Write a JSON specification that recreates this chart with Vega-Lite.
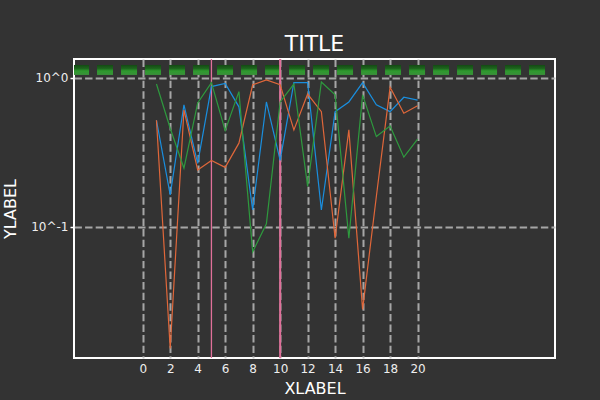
{
  "$schema": "https://vega.github.io/schema/vega-lite/v6.json",
  "width": 481,
  "height": 299,
  "autosize": "none",
  "padding": {"left": 74, "top": 59, "right": 45, "bottom": 42},
  "background": "#333333",
  "title": {"text": "TITLE", "color": "white", "fontSize": 22, "font": "DejaVu Sans", "fontWeight": "normal", "anchor": "middle", "baseline": "alphabetic", "offset": -15},
  "config": {
    "view": {"stroke": "white", "strokeWidth": 2},
    "axis": {
      "domain": false,
      "grid": true,
      "gridColor": "#bbbbbb",
      "gridOpacity": 0.85,
      "gridWidth": 2,
      "gridDash": [7.4, 3.2],
      "zindex": 1,
      "labelColor": "#eeeeee",
      "labelFont": "DejaVu Sans",
      "labelFontSize": 12,
      "titleColor": "white",
      "titleFont": "DejaVu Sans",
      "titleFontSize": 16,
      "titleFontWeight": "normal"
    }
  },
  "datasets": {
    "lines": [
      {"x": 1, "v": 0.52, "s": "a"}, {"x": 2, "v": 0.164, "s": "a"}, {"x": 3, "v": 0.66, "s": "a"}, {"x": 4, "v": 0.267, "s": "a"}, {"x": 5, "v": 0.875, "s": "a"},
      {"x": 6, "v": 0.92, "s": "a"}, {"x": 7, "v": 0.64, "s": "a"}, {"x": 8, "v": 0.13, "s": "a"}, {"x": 9, "v": 0.69, "s": "a"}, {"x": 10, "v": 0.28, "s": "a"},
      {"x": 11, "v": 0.93, "s": "a"}, {"x": 12, "v": 0.93, "s": "a"}, {"x": 13, "v": 0.13, "s": "a"}, {"x": 14, "v": 0.594, "s": "a"}, {"x": 15, "v": 0.69, "s": "a"},
      {"x": 16, "v": 0.93, "s": "a"}, {"x": 17, "v": 0.66, "s": "a"}, {"x": 18, "v": 0.594, "s": "a"}, {"x": 19, "v": 0.742, "s": "a"}, {"x": 20, "v": 0.71, "s": "a"},
      {"x": 1, "v": 0.52, "s": "b"}, {"x": 2, "v": 0.0153, "s": "b"}, {"x": 3, "v": 0.61, "s": "b"}, {"x": 4, "v": 0.241, "s": "b"}, {"x": 5, "v": 0.279, "s": "b"},
      {"x": 6, "v": 0.251, "s": "b"}, {"x": 7, "v": 0.365, "s": "b"}, {"x": 8, "v": 0.9, "s": "b"}, {"x": 9, "v": 0.97, "s": "b"}, {"x": 10, "v": 0.9, "s": "b"},
      {"x": 11, "v": 0.448, "s": "b"}, {"x": 12, "v": 0.78, "s": "b"}, {"x": 13, "v": 0.594, "s": "b"}, {"x": 14, "v": 0.084, "s": "b"}, {"x": 15, "v": 0.448, "s": "b"},
      {"x": 16, "v": 0.028, "s": "b"}, {"x": 17, "v": 0.16, "s": "b"}, {"x": 18, "v": 0.865, "s": "b"}, {"x": 19, "v": 0.58, "s": "b"}, {"x": 20, "v": 0.65, "s": "b"},
      {"x": 1, "v": 0.91, "s": "c"}, {"x": 2, "v": 0.46, "s": "c"}, {"x": 3, "v": 0.248, "s": "c"}, {"x": 4, "v": 0.68, "s": "c"}, {"x": 5, "v": 0.93, "s": "c"},
      {"x": 6, "v": 0.443, "s": "c"}, {"x": 7, "v": 0.81, "s": "c"}, {"x": 8, "v": 0.068, "s": "c"}, {"x": 9, "v": 0.105, "s": "c"}, {"x": 10, "v": 0.69, "s": "c"},
      {"x": 11, "v": 0.91, "s": "c"}, {"x": 12, "v": 0.187, "s": "c"}, {"x": 13, "v": 0.94, "s": "c"}, {"x": 14, "v": 0.77, "s": "c"}, {"x": 15, "v": 0.084, "s": "c"},
      {"x": 16, "v": 0.77, "s": "c"}, {"x": 17, "v": 0.404, "s": "c"}, {"x": 18, "v": 0.476, "s": "c"}, {"x": 19, "v": 0.294, "s": "c"}, {"x": 20, "v": 0.388, "s": "c"}
    ],
    "boxes": [
      {"x0": -5.0, "x1": -3.906, "y0": 1.047, "y1": 1.222},
      {"x0": -3.324, "x1": -2.16, "y0": 1.047, "y1": 1.222},
      {"x0": -1.577, "x1": -0.413, "y0": 1.047, "y1": 1.222},
      {"x0": 0.169, "x1": 1.333, "y0": 1.047, "y1": 1.222},
      {"x0": 1.916, "x1": 3.08, "y0": 1.047, "y1": 1.222},
      {"x0": 3.662, "x1": 4.826, "y0": 1.047, "y1": 1.222},
      {"x0": 5.408, "x1": 6.572, "y0": 1.047, "y1": 1.222},
      {"x0": 7.155, "x1": 8.319, "y0": 1.047, "y1": 1.222},
      {"x0": 8.901, "x1": 10.065, "y0": 1.047, "y1": 1.222},
      {"x0": 10.648, "x1": 11.812, "y0": 1.047, "y1": 1.222},
      {"x0": 12.394, "x1": 13.558, "y0": 1.047, "y1": 1.222},
      {"x0": 14.14, "x1": 15.304, "y0": 1.047, "y1": 1.222},
      {"x0": 15.887, "x1": 17.051, "y0": 1.047, "y1": 1.222},
      {"x0": 17.633, "x1": 18.797, "y0": 1.047, "y1": 1.222},
      {"x0": 19.38, "x1": 20.544, "y0": 1.047, "y1": 1.222},
      {"x0": 21.126, "x1": 22.29, "y0": 1.047, "y1": 1.222},
      {"x0": 22.872, "x1": 24.036, "y0": 1.047, "y1": 1.222},
      {"x0": 24.619, "x1": 25.783, "y0": 1.047, "y1": 1.222},
      {"x0": 26.365, "x1": 27.529, "y0": 1.047, "y1": 1.222},
      {"x0": 28.112, "x1": 29.276, "y0": 1.047, "y1": 1.222}
    ],
    "vlines": [
      {"x": 5, "w": "thin"},
      {"x": 10, "w": "thick"}
    ]
  },
  "encoding": {
    "x": {
      "type": "quantitative",
      "scale": {"domain": [-5, 30], "nice": false, "zero": false},
      "axis": {"title": "XLABEL", "values": [0, 2, 4, 6, 8, 10, 12, 14, 16, 18, 20], "ticks": false, "labelPadding": 5, "titleX": 240.5, "titleY": 35, "titleBaseline": "alphabetic", "titleAnchor": null, "titleAlign": "center"}
    },
    "y": {
      "type": "quantitative",
      "scale": {"type": "log", "domain": [0.0132, 1.34], "nice": false},
      "axis": {"title": "YLABEL", "values": [0.1, 1], "labelExpr": "'10^' + round(log(datum.value) / LN10)", "ticks": true, "tickColor": "white", "tickSize": 4, "tickWidth": 1.5, "labelPadding": 2, "titleX": -64, "titleY": 149.5, "titleAngle": -90, "titleBaseline": "middle", "titleAlign": "center"}
    }
  },
  "layer": [
    {
      "data": {"name": "boxes"},
      "mark": {"type": "rect", "clip": true, "fill": {"gradient": "linear", "x1": 0, "y1": 0, "x2": 0, "y2": 1, "stops": [{"offset": 0, "color": "#144a14"}, {"offset": 0.35, "color": "#1d651d"}, {"offset": 0.6, "color": "#2e9a2e"}, {"offset": 1, "color": "#3a8f3a"}]}},
      "encoding": {
        "x": {"field": "x0"},
        "x2": {"field": "x1"},
        "y": {"field": "y0"},
        "y2": {"field": "y1"}
      }
    },
    {
      "data": {"name": "vlines"},
      "mark": {"type": "rule", "color": "#e0709a"},
      "encoding": {
        "x": {"field": "x"},
        "y": null,
        "strokeWidth": {"field": "w", "type": "nominal", "scale": {"domain": ["thin", "thick"], "range": [1.3, 2]}, "legend": null}
      }
    },
    {
      "data": {"name": "lines"},
      "mark": {"type": "line", "strokeWidth": 1.2, "clip": true},
      "encoding": {
        "x": {"field": "x"},
        "y": {"field": "v"},
        "color": {"field": "s", "type": "nominal", "scale": {"domain": ["a", "b", "c"], "range": ["#1a8fdf", "#e0673a", "#2e9a3e"]}, "legend": null}
      }
    }
  ]
}
